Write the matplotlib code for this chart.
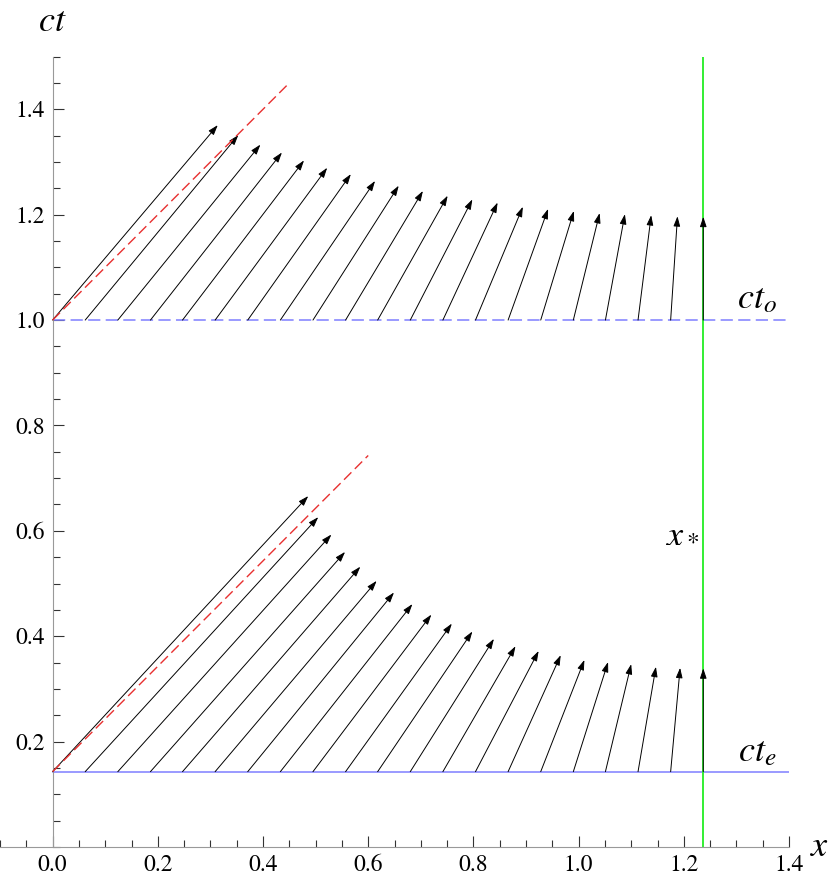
import matplotlib
matplotlib.use("Agg")
import matplotlib.pyplot as plt
from matplotlib.ticker import FixedLocator, MultipleLocator

plt.rcParams['font.family'] = ['STIXGeneral', 'Liberation Serif', 'DejaVu Serif']
plt.rcParams['mathtext.fontset'] = 'stix'

# emission / observation times and the special point x_*
ct_e = 0.143
ct_o = 1.0
x_star = 1.237

# starting points of the rays (same for both families)
x_start = [0.0, 0.062, 0.124, 0.186, 0.247, 0.309, 0.371, 0.433, 0.495, 0.557, 0.618,
           0.680, 0.742, 0.804, 0.866, 0.928, 0.990, 1.051, 1.113, 1.175, 1.237]

# arrow tips, lower family (from ct_e)
low_tip_x = [0.486, 0.505, 0.530, 0.556, 0.585, 0.616, 0.649, 0.684, 0.720, 0.759, 0.798,
             0.839, 0.880, 0.924, 0.966, 1.011, 1.056, 1.100, 1.147, 1.193, 1.237]
low_tip_y = [0.666, 0.626, 0.593, 0.560, 0.532, 0.505, 0.483, 0.461, 0.441, 0.424, 0.409,
             0.395, 0.381, 0.372, 0.364, 0.355, 0.351, 0.347, 0.342, 0.340, 0.339]

# arrow tips, upper family (from ct_o)
up_tip_x = [0.314, 0.353, 0.395, 0.436, 0.478, 0.522, 0.567, 0.613, 0.658, 0.704, 0.751,
            0.798, 0.846, 0.894, 0.942, 0.991, 1.040, 1.088, 1.138, 1.188, 1.237]
up_tip_y = [1.370, 1.351, 1.333, 1.318, 1.303, 1.289, 1.277, 1.264, 1.255, 1.245, 1.236,
            1.229, 1.223, 1.215, 1.211, 1.207, 1.203, 1.201, 1.199, 1.197, 1.196]

# 45 degree light cones (dashed red): end x for each
cone_low_end = 0.6
cone_up_end = 0.45

fig = plt.figure(figsize=(8.3, 8.83), dpi=100)
ax = fig.add_axes([0.0, 36 / 883, 789 / 830, 790.4 / 883])
ax.set_xlim(-0.1, 1.4)
ax.set_ylim(0, 1.5)

# horizontal lines
ax.plot([0, 1.4], [ct_e, ct_e], color='#7f7fff', lw=1.1, zorder=2)
ax.plot([0, 1.4], [ct_o, ct_o], color='#7f7fff', lw=1.1, dashes=(8, 3.5), zorder=2)

# x_* vertical line
ax.axvline(x_star, color='#33ee33', lw=1.4, zorder=2)

# light cones
ax.plot([0, cone_low_end], [ct_e, ct_e + cone_low_end], color='#e83030', lw=1.0,
        dashes=(7.5, 3.5), zorder=4)
ax.plot([0, cone_up_end], [ct_o, ct_o + cone_up_end], color='#e83030', lw=1.0,
        dashes=(7.5, 3.5), zorder=4)

arrow_kw = dict(arrowstyle='-|>,head_length=0.6,head_width=0.2', color='black',
                lw=0.7, mutation_scale=10, shrinkA=0, shrinkB=0)
for x0, tx, ty in zip(x_start, low_tip_x, low_tip_y):
    ax.annotate('', xy=(tx, ty), xytext=(x0, ct_e), arrowprops=arrow_kw, zorder=3)
for x0, tx, ty in zip(x_start, up_tip_x, up_tip_y):
    ax.annotate('', xy=(tx, ty), xytext=(x0, ct_o), arrowprops=arrow_kw, zorder=3)

# axes styling
for s in ['top', 'right']:
    ax.spines[s].set_visible(False)
ax.spines['left'].set_position(('data', 0))
ax.spines['left'].set_color('#999999')
ax.spines['bottom'].set_color('#999999')

ax.xaxis.set_major_locator(FixedLocator([0.0, 0.2, 0.4, 0.6, 0.8, 1.0, 1.2, 1.4]))
ax.xaxis.set_minor_locator(MultipleLocator(0.05))
ax.yaxis.set_major_locator(FixedLocator([0.2, 0.4, 0.6, 0.8, 1.0, 1.2, 1.4]))
ax.yaxis.set_minor_locator(MultipleLocator(0.05))
ax.set_xticklabels(['0.0', '0.2', '0.4', '0.6', '0.8', '1.0', '1.2', '1.4'])
ax.set_yticklabels(['0.2', '0.4', '0.6', '0.8', '1.0', '1.2', '1.4'])
ax.tick_params(which='both', direction='in', color='#333333', width=0.8,
               labelsize=17, pad=5.5)
ax.tick_params(which='major', length=7.7)
ax.tick_params(which='minor', length=5.3)

# text labels
ax.text(0.0, 1.565, r'$ct$', fontsize=26, ha='center', va='center', clip_on=False)
ax.text(1.459, 0.0, r'$x$', fontsize=26, ha='center', va='center', clip_on=False)
ax.text(1.34, 1.038, r'$ct_o$', fontsize=26, ha='center', va='center')
ax.text(1.34, 0.18, r'$ct_e$', fontsize=26, ha='center', va='center')
ax.text(1.198, 0.595, r'$x_*$', fontsize=26, ha='center', va='center')

fig.savefig('out.png', dpi=100)
